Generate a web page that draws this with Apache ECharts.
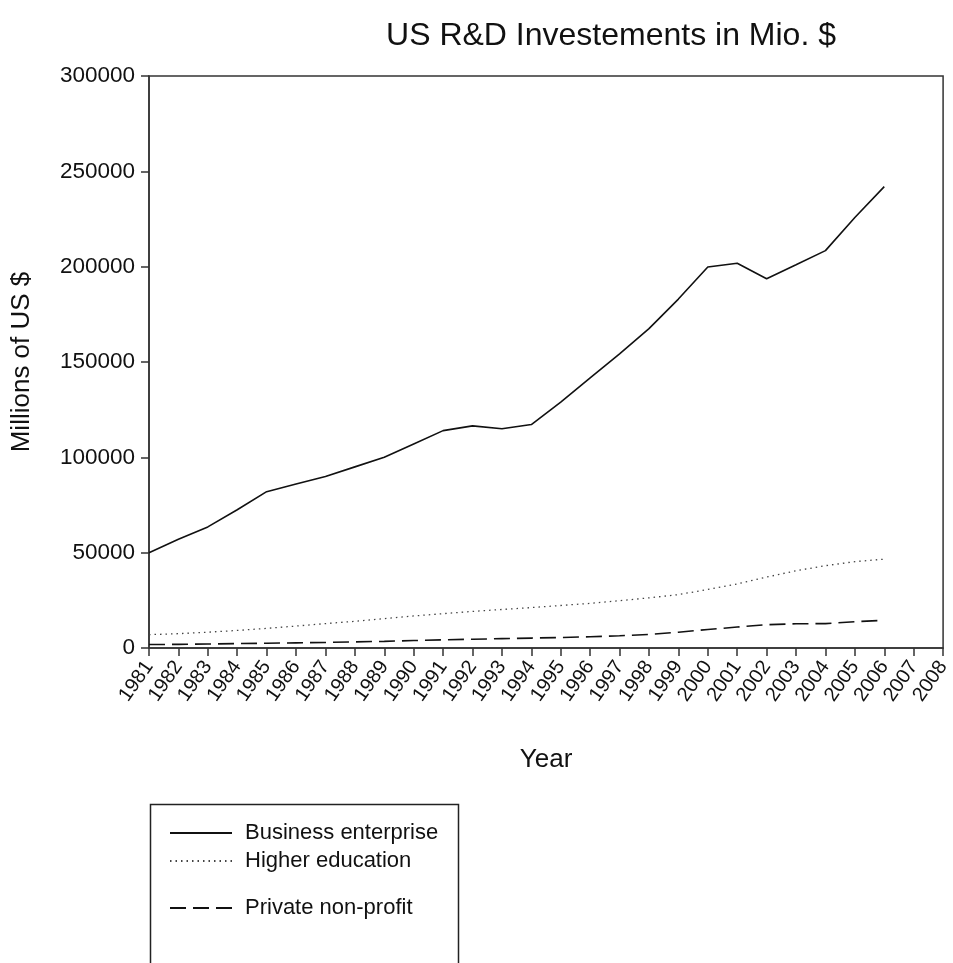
<!DOCTYPE html>
<html>
<head>
<meta charset="utf-8">
<script src="https://cdn.jsdelivr.net/npm/echarts@6/dist/echarts.min.js"></script>
<style>
  html, body { margin: 0; padding: 0; background: #fff; }
  #main { width: 953px; height: 963px; }
</style>
</head>
<body>
<div id="main"></div>
<script>
// years on the axis (data stops at 2006)
var years = ['1981','1982','1983','1984','1985','1986','1987','1988','1989','1990',
             '1991','1992','1993','1994','1995','1996','1997','1998','1999','2000',
             '2001','2002','2003','2004','2005','2006','2007','2008'];

var business = [50000, 57000, 63500, 72500, 82000, 86000, 90000, 95000, 100000, 107000,
                114000, 116500, 115000, 117200, 129000, 141700, 154300, 167500, 183000, 199800,
                201800, 193700, 201000, 208400, 225800, 242000];
var higherEdu = [7000, 7500, 8300, 9200, 10300, 11500, 12800, 14000, 15400, 16800,
                 18000, 19200, 20200, 21200, 22300, 23400, 24800, 26300, 28000, 30700,
                 33600, 37200, 40500, 43200, 45300, 46600];
var nonProfit = [1800, 1900, 2100, 2300, 2500, 2700, 2900, 3200, 3500, 3900,
                 4300, 4600, 4900, 5200, 5500, 5900, 6400, 7100, 8300, 9700,
                 11000, 12200, 12700, 12800, 13800, 14500];

var font = 'Liberation Sans';
var myChart = echarts.init(document.getElementById('main'));

var legendText = { fontFamily: font, fontSize: 22, color: '#111', padding: [0, 0, 0, 8] };

var option = {
    animation: false,
    backgroundColor: '#fff',
    textStyle: { fontFamily: font, color: '#111' },
    title: {
        text: 'US R&D Investements in Mio. $',
        left: 606,
        top: 15,
        textAlign: 'center',
        textStyle: { fontFamily: font, fontSize: 32, fontWeight: 'normal', color: '#111' }
    },
    // legend box, open at the bottom like the picture
    graphic: [{
        type: 'rect',
        left: 148, top: 802,
        shape: { width: 308, height: 200 },
        style: { fill: 'none', stroke: '#222', lineWidth: 1.5 }
    }],
    legend: [{
        orient: 'vertical',
        left: 164, top: 817,
        itemWidth: 62, itemHeight: 14, itemGap: 6,
        itemStyle: { opacity: 0 },
        textStyle: legendText,
        data: ['Business enterprise', 'Higher education']
    }, {
        orient: 'vertical',
        left: 164, top: 892,
        itemWidth: 62, itemHeight: 14,
        itemStyle: { opacity: 0 },
        textStyle: legendText,
        data: ['Private non-profit']
    }],
    grid: {
        left: 149, right: 8, top: 76, bottom: 315,
        show: true, borderColor: '#333', borderWidth: 1.5
    },
    xAxis: {
        type: 'category',
        data: years,
        boundaryGap: false,
        name: 'Year',
        nameLocation: 'middle',
        nameGap: 99,
        nameTextStyle: { fontFamily: font, fontSize: 26, color: '#111' },
        axisLine: { lineStyle: { color: '#333', width: 1.5 } },
        axisTick: { alignWithLabel: true, length: 8, lineStyle: { color: '#333', width: 1.5 } },
        axisLabel: { interval: 0, rotate: 55, fontSize: 20, color: '#111', margin: 15 },
        splitLine: { show: false }
    },
    yAxis: {
        type: 'value',
        min: 0, max: 300000, interval: 50000,
        name: 'Millions of US $',
        nameLocation: 'middle',
        nameGap: 114,
        nameTextStyle: { fontFamily: font, fontSize: 26, color: '#111' },
        axisLine: { show: true, lineStyle: { color: '#333', width: 1.5 } },
        axisTick: { show: true, length: 8, lineStyle: { color: '#333', width: 1.5 } },
        axisLabel: {
            fontSize: 22.5, color: '#111', margin: 14,
            formatter: function (v) { return String(v); }
        },
        splitLine: { show: false }
    },
    series: [{
        name: 'Business enterprise',
        type: 'line',
        symbol: 'none',
        data: business,
        lineStyle: { color: '#111', width: 1.6, type: 'solid' },
        itemStyle: { color: '#111' }
    }, {
        name: 'Higher education',
        type: 'line',
        symbol: 'none',
        data: higherEdu,
        lineStyle: { color: '#444', width: 1.3, type: [1.5, 4] },
        itemStyle: { color: '#444' }
    }, {
        name: 'Private non-profit',
        type: 'line',
        symbol: 'none',
        data: nonProfit,
        lineStyle: { color: '#111', width: 1.6, type: [16, 7] },
        itemStyle: { color: '#111' }
    }]
};

myChart.setOption(option, true);
</script>
</body>
</html>
